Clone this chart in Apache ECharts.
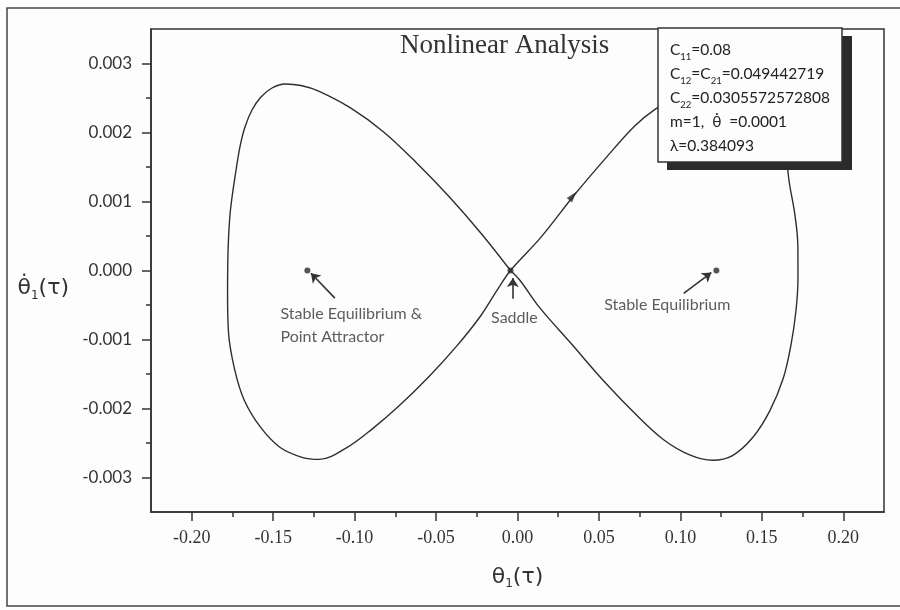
<!DOCTYPE html>
<html><head><meta charset="utf-8">
<script src="https://cdn.jsdelivr.net/npm/echarts@6/dist/echarts.min.js"></script>
<style>html,body{margin:0;padding:0;background:#fdfdfd}#c{width:900px;height:610px}</style>
</head><body><div id="c"></div>
<script>
// Phase trajectory (theta1, theta1-dot), traced around the figure-eight
const thetaX = [
  -0.0043,
  -0.0223, -0.0422, -0.0622, -0.0822, -0.1023, -0.1224, -0.1329, -0.1427, -0.1507, -0.1575, -0.1630, -0.1673,
  -0.1703, -0.1725, -0.1762, -0.1776, -0.1780, -0.1774, -0.1736, -0.1678, -0.1579, -0.1459, -0.1318,
  -0.1217, -0.1053, -0.0889, -0.0725, -0.0540, -0.0375, -0.0230, -0.0126,
  -0.0043,
  0.0142, 0.0350, 0.0556, 0.0721, 0.0844,
  0.100, 0.115, 0.130, 0.142, 0.152, 0.160, 0.1645,
  0.1669, 0.1703, 0.1721, 0.1722, 0.1709, 0.1679, 0.1632, 0.1548, 0.1444, 0.1320,
  0.1198, 0.1057, 0.0895, 0.0735, 0.0535, 0.0336, 0.0136, 0.0017,
  -0.0043
];
const thetaDotY = [
  0,
  0.000537, 0.001076, 0.001566, 0.002008, 0.002352, 0.002602, 0.002681, 0.002703, 0.002645, 0.002514, 0.002326, 0.002080,
  0.001804, 0.001500, 0.000881, 0.000350, -0.000326, -0.000906, -0.001439, -0.001876, -0.002267, -0.002561, -0.002711,
  -0.002737, -0.002575, -0.002291, -0.001958, -0.001529, -0.001100, -0.000670, -0.000288,
  0,
  0.000476, 0.001097, 0.001669, 0.002098, 0.002336,
  0.00255, 0.00272, 0.00279, 0.00274, 0.00252, 0.00212, 0.00170,
  0.001268, 0.000807, 0.000371, -0.000111, -0.000594, -0.001077, -0.001558, -0.002038, -0.002421, -0.002682,
  -0.002750, -0.002673, -0.002449, -0.002106, -0.001616, -0.001077, -0.000538, -0.000148,
  0
];
// Equilibrium points (left stable, saddle, right stable)
const pointX = [-0.129, -0.0043, 0.1221];
const pointY = [0, 0, 0];
// Annotation arrows (tail -> head)
const arrowFromX = [-0.1121, -0.0029, 0.1020];
const arrowFromY = [-0.00040, -0.00041, -0.00033];
const arrowToX = [-0.1268, -0.0028, 0.1190];
const arrowToY = [-0.00004, -0.00011, -0.00003];
// Direction arrow on the unstable branch
const flowArrowX = [0.034];
const flowArrowY = [0.00108];
// Annotation texts
const noteText = ['Stable Equilibrium &\nPoint Attractor', 'Saddle', 'Stable Equilibrium'];
const noteX = [-0.1455, -0.0019, 0.0532];
const noteY = [-0.00079, -0.00069, -0.00050];
const notePlace = ['right', 'inside', 'right'];
// Axis ticks
const xMajorTicks = [-0.2, -0.15, -0.1, -0.05, 0, 0.05, 0.1, 0.15, 0.2];
const xMinorTicks = [-0.175, -0.125, -0.075, -0.025, 0.025, 0.075, 0.125, 0.175];
const yMajorTicks = [-0.003, -0.002, -0.001, 0, 0.001, 0.002, 0.003];
const yMinorTicks = [-0.0025, -0.0015, -0.0005, 0.0005, 0.0015, 0.0025];
// Parameter box lines
const paramLines = [
  '{n|C}{s|11}{n|=0.08}',
  '{n|C}{s|12}{n|=C}{s|21}{n|=0.049442719}',
  '{n|C}{s|22}{n|=0.0305572572808}',
  '{n|m=1,  θ̇  =0.0001}',
  '{n|λ=0.384093}'
];

const INK = '#333';
const chart = echarts.init(document.getElementById('c'), null, {renderer: 'canvas'});
const curve = thetaX.map((x, i) => [x, thetaDotY[i]]);
const pts = pointX.map((x, i) => [x, pointY[i]]);
const arrows = arrowFromX.map((x, i) => [
  {coord: [x, arrowFromY[i]]}, {coord: [arrowToX[i], arrowToY[i]]}
]);
const notes = noteText.map((t, i) => ({
  value: [noteX[i], noteY[i]],
  label: {show: true, formatter: t, position: notePlace[i], distance: 0,
          align: notePlace[i] === 'right' ? 'left' : 'center'}
}));

const xBase = {type: 'value', min: -0.225, max: 0.225, gridIndex: 0, splitLine: {show: false}};
const yBase = {type: 'value', min: -0.0035, max: 0.0035, gridIndex: 0, splitLine: {show: false}};

chart.setOption({
  animation: false,
  backgroundColor: '#fdfdfd',
  title: {
    text: 'Nonlinear Analysis', left: 400, top: 32, padding: 0,
    textStyle: {fontFamily: 'Liberation Serif', fontSize: 27, fontWeight: 'normal', color: INK}
  },
  grid: {left: 151, right: 16, top: 29, bottom: 98, show: true,
         borderColor: INK, borderWidth: 1.5, backgroundColor: 'transparent'},
  xAxis: [
    Object.assign({}, xBase, {
      position: 'bottom',
      axisLine: {show: true, onZero: false, lineStyle: {color: INK, width: 1.6}},
      axisTick: {show: true, customValues: xMajorTicks, length: 9, lineStyle: {color: INK, width: 1.5}},
      axisLabel: {show: true, customValues: xMajorTicks, margin: 17,
                  formatter: v => v.toFixed(2),
                  fontFamily: 'Liberation Serif', fontSize: 18, color: INK},
      name: '{a|θ}{s|1}{a|(τ)}', nameLocation: 'middle', nameGap: 52,
      nameTextStyle: {color: INK, rich: {
        a: {fontFamily: 'DejaVu Sans', fontSize: 22, color: INK, lineHeight: 26},
        s: {fontFamily: 'DejaVu Sans', fontSize: 12, color: INK, lineHeight: 12, verticalAlign: 'bottom'}
      }}
    }),
    Object.assign({}, xBase, {
      position: 'bottom',
      axisLine: {show: false, onZero: false},
      axisTick: {show: true, customValues: xMinorTicks, length: 5, lineStyle: {color: INK, width: 1.5}},
      axisLabel: {show: false}
    })
  ],
  yAxis: [
    Object.assign({}, yBase, {
      position: 'left',
      axisLine: {show: true, onZero: false, lineStyle: {color: INK, width: 1.6}},
      axisTick: {show: true, customValues: yMajorTicks, length: 9, lineStyle: {color: INK, width: 1.5}},
      axisLabel: {show: true, customValues: yMajorTicks, margin: 19,
                  formatter: v => v.toFixed(3),
                  fontFamily: 'Lato', fontSize: 17, color: INK},
      name: '{a|θ̇}{s|1}{a|(τ)}', nameLocation: 'middle', nameGap: 82, nameRotate: 0,
      nameTextStyle: {color: INK, padding: [36, 0, 0, 0], rich: {
        a: {fontFamily: 'DejaVu Sans', fontSize: 22, color: INK, lineHeight: 26},
        s: {fontFamily: 'DejaVu Sans', fontSize: 12, color: INK, lineHeight: 12, verticalAlign: 'bottom'}
      }}
    }),
    Object.assign({}, yBase, {
      position: 'left',
      axisLine: {show: false, onZero: false},
      axisTick: {show: true, customValues: yMinorTicks, length: 5, lineStyle: {color: INK, width: 1.5}},
      axisLabel: {show: false}
    })
  ],
  series: [
    {
      type: 'line', data: curve, xAxisIndex: 0, yAxisIndex: 0,
      smooth: 0.35, showSymbol: false, silent: true,
      lineStyle: {color: '#2e2e2e', width: 1.4}, z: 2
    },
    {
      type: 'scatter', data: pts, symbolSize: 6, silent: true,
      itemStyle: {color: '#2a2a2a'}, z: 4,
      markLine: {
        silent: true, symbol: ['none', 'arrow'], symbolSize: 9,
        label: {show: false}, lineStyle: {color: INK, width: 1.6, type: 'solid'},
        data: arrows
      }
    },
    {
      type: 'scatter', silent: true, z: 4,
      data: flowArrowX.map((x, i) => [x, flowArrowY[i]]),
      symbol: 'triangle', symbolSize: [7, 11], symbolRotate: -40,
      itemStyle: {color: '#2a2a2a'}
    },
    {
      type: 'scatter', silent: true, symbolSize: 0, z: 5,
      data: notes,
      label: {fontFamily: 'Lato', fontSize: 16, color: INK, lineHeight: 23}
    }
  ],
  graphic: [
    {type: 'rect', silent: true, z: 100,
     shape: {x: 7, y: 8, width: 900, height: 598},
     style: {fill: 'none', stroke: '#444', lineWidth: 1.5}},
    {type: 'rect', silent: true, z: 100,
     shape: {x: 667, y: 36, width: 185, height: 134},
     style: {fill: '#2b2b2b'}},
    {type: 'rect', silent: true, z: 101,
     shape: {x: 658, y: 28, width: 184, height: 134},
     style: {fill: '#fdfdfd', stroke: INK, lineWidth: 1.5}},
    {type: 'text', silent: true, z: 102, x: 670, y: 38,
     style: {
       text: paramLines.join('\n'),
       rich: {
         n: {fontFamily: 'Lato, DejaVu Sans', fontSize: 15.5, lineHeight: 24, fill: '#222'},
         s: {fontFamily: 'Lato, DejaVu Sans', fontSize: 9.5, lineHeight: 13, fill: '#222', verticalAlign: 'bottom'}
       }
     }}
  ]
});
</script>
</body></html>
